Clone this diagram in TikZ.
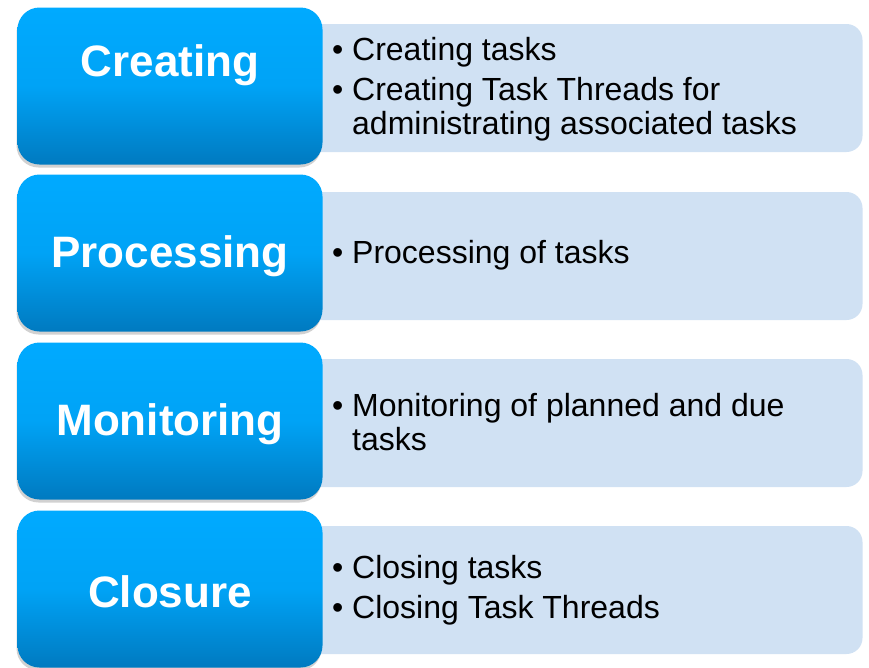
\documentclass[tikz,border=0pt]{standalone}
\usepackage{fontspec}
\setmainfont{Liberation Sans}
\usetikzlibrary{shadows}

\definecolor{stagetop}{RGB}{0,170,255}
\definecolor{stagebot}{RGB}{0,122,192}
\definecolor{listbg}{RGB}{208,225,243}

\newcommand{\bul}{\makebox[20pt][l]{\textbullet}}
\newcommand{\ind}{\hspace*{20pt}}

\begin{document}
\begin{tikzpicture}[x=1pt,y=-1pt,
  stage/.style={minimum width=305pt, minimum height=157pt, rounded corners=22pt,
    top color=stagetop, bottom color=stagebot, middle color=stagetop!85!stagebot,
    drop shadow={shadow xshift=-1pt, shadow yshift=-3pt, opacity=0.18, fill=black}},
  listbox/.style={fill=listbg, minimum width=573pt, minimum height=128pt, rounded corners=16pt},
  stagetext/.style={text=white, font=\fontsize{44}{48}\selectfont\bfseries},
  listtext/.style={anchor=west, inner sep=0pt, align=left, font=\fontsize{32}{34}\selectfont}]

\useasboundingbox (0,0) rectangle (869,667);

% light boxes behind
\node [listbox] (crtlist) at (576,88) {};
\node [listbox] (prclist) at (576,256) {};
\node [listbox] (monlist) at (576,423) {};
\node [listbox] (clslist) at (576,590) {};

% blue boxes
\node [stage] (crt) at (170,86) {};
\node [stage] (prc) at (170,253) {};
\node [stage] (mon) at (170,421) {};
\node [stage] (cls) at (170,589) {};

% labels
\node [stagetext] (crtname) at (170,65) {Creating};
\node [stagetext] (prcname) at (170,256) {Processing};
\node [stagetext] (monname) at (170,424) {Monitoring};
\node [stagetext] (clsname) at (170,592) {Closure};

% bullet lists
\node [listtext] (crttext) at (332,89) {\bul Creating tasks\\[6pt]
  \bul Creating Task Threads for\\ \ind administrating associated tasks};
\node [listtext] (prctext) at (332,255) {\bul Processing of tasks};
\node [listtext] (montext) at (332,422) {\bul Monitoring of planned and due\\ \ind tasks};
\node [listtext] (clstext) at (332,590) {\bul Closing tasks\\[6pt] \bul Closing Task Threads};

\end{tikzpicture}
\end{document}
